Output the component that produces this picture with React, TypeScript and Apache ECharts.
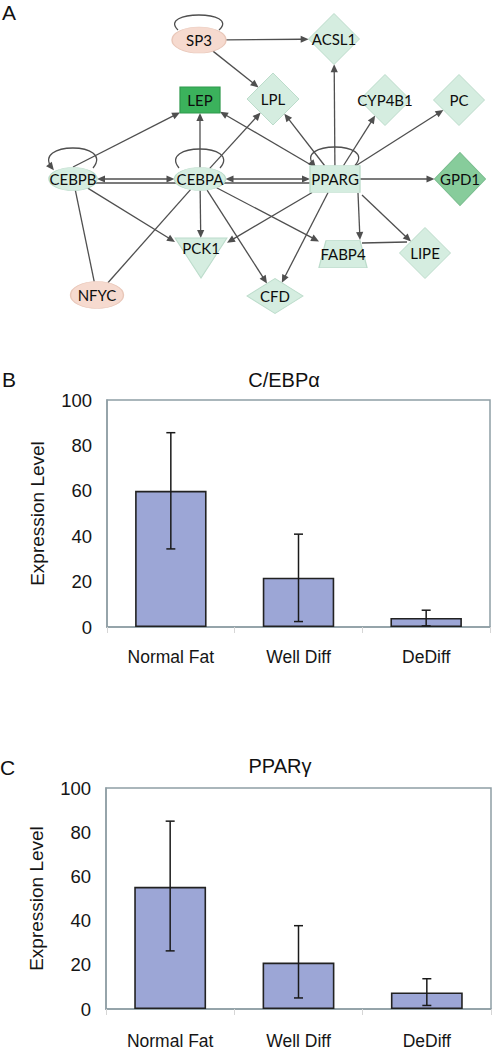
import React, { useEffect, useRef } from 'react';
import * as echarts from 'echarts';

// ---------- Panel A: network ----------
const NODE_NAMES = ['SP3', 'ACSL1', 'LEP', 'LPL', 'CYP4B1', 'PC', 'CEBPB', 'CEBPA', 'PPARG', 'GPD1', 'PCK1', 'FABP4', 'LIPE', 'NFYC', 'CFD'];
const NODE_X = [199, 334, 200, 273, 385, 459, 73, 200, 335, 460, 201, 343, 425, 97, 275];
const NODE_Y = [40, 39, 100, 99, 100, 100, 179, 179, 179, 179, 258, 254, 253, 295, 296];
const NODE_SHAPE = ['ellipse', 'diamond', 'rect', 'diamond', 'diamond', 'diamond', 'ellipse', 'ellipse', 'rect', 'diamond', 'triangle', 'trapezoid', 'diamond', 'ellipse', 'diamond'];
const NODE_W = [54, 51, 40, 52, 51, 51, 48, 51, 50, 51, 52, 48, 51, 53, 56];
const NODE_H = [26, 51, 26, 52, 51, 51, 23, 23, 27, 53, 40, 27, 51, 27, 35];
const NODE_KIND = ['tf2', 'gene', 'top', 'gene', 'gene', 'gene', 'gene', 'gene', 'gene', 'mid', 'gene', 'gene', 'gene', 'tf2', 'gene'];

const EDGE_FROM = ['SP3', 'SP3', 'PPARG', 'CEBPB', 'CEBPA', 'PPARG', 'CEBPA', 'PPARG', 'PPARG', 'PPARG', 'PPARG', 'CEBPB', 'CEBPA', 'PPARG', 'CEBPA', 'PPARG', 'CEBPA', 'PPARG', 'PPARG', 'FABP4', 'CEBPB', 'CEBPA', 'CEBPB', 'CEBPA', 'CEBPB'];
const EDGE_TO = ['ACSL1', 'LPL', 'ACSL1', 'LEP', 'LEP', 'LEP', 'LPL', 'LPL', 'CYP4B1', 'PC', 'GPD1', 'PCK1', 'PCK1', 'PCK1', 'CFD', 'CFD', 'FABP4', 'FABP4', 'LIPE', 'LIPE', 'NFYC', 'NFYC', 'CEBPA', 'PPARG', 'PPARG'];
const EDGE_TYPE = ['->', '->', '->', '->', '->', '->', '->', '->', '->', '->', '->', '->', '->', '->', '->', '->', '->', '->', '->', '--', '--', '--', '<->', '<->', '--'];
// attachment offsets relative to node centres (null = clip at node outline)
const EDGE_ANCHOR: (any[] | null)[] = [
  null, null, null, [0, -12, null, null], null, null, null, null, null, null, null, null, null, null, null, null, null,
  [23, 14, 17, -14], [27, 16, null, null], [19, -11, -18, -11], null, null, null, null, [21, 4, -25, 4],
];

const LOOP_NODES = ['SP3', 'CEBPB', 'CEBPA', 'PPARG'];
const LOOP_TOP = [25, 31, 30, 32];
const LOOP_END = [10, 11, 11, 13.5];
const LOOP_ARROW = [false, true, false, true];

// ---------- Panels B & C ----------
const CATEGORIES = ['Normal Fat', 'Well Diff', 'DeDiff'];
const CEBPA_MEAN = [60, 21.7, 4];
const CEBPA_LOW = [34.4, 2.4, 0.5];
const CEBPA_HIGH = [85.6, 40.9, 7.4];
const PPARG_MEAN = [55.3, 21, 7.5];
const PPARG_LOW = [26.3, 5, 1.6];
const PPARG_HIGH = [85, 37.7, 13.7];
const Y_TICKS = [0, 20, 40, 60, 80, 100];

const EDGE_COLOR = '#4f4f4f';
const ARROW_LEN = 8;
const ARROW_HALF = 3.6;
const FONT = '"Liberation Sans", Arial, sans-serif';

const SYMBOLS: Record<string, string> = {
  ellipse: 'path://M0,50A50,50,0,1,1,100,50A50,50,0,1,1,0,50Z',
  diamond: 'diamond',
  rect: 'rect',
  triangle: 'path://M0,0L100,0L50,80Z',
  trapezoid: 'path://M7,0L41,0L48,27L0,27Z',
};
const KIND_COLOR: Record<string, string> = { gene: '#d5ede0', tf2: '#f6dacf', top: '#3bb25c', mid: '#87cc9b' };
const KIND_BORDER: Record<string, string> = { gene: '#bcdccb', tf2: '#e9c7b9', top: '#2f9a4d', mid: '#76bb8b' };

function idx(name: string) {
  return NODE_NAMES.indexOf(name);
}

function clipT(i: number, dx: number, dy: number) {
  const a = NODE_W[i] / 2;
  const b = NODE_H[i] / 2;
  const s = NODE_SHAPE[i];
  if (s === 'ellipse') return 1 / Math.sqrt((dx / a) ** 2 + (dy / b) ** 2);
  if (s === 'diamond') return 1 / (Math.abs(dx) / a + Math.abs(dy) / b);
  return Math.min(dx === 0 ? Infinity : a / Math.abs(dx), dy === 0 ? Infinity : b / Math.abs(dy));
}

function arrowHead(tip: number[], ux: number, uy: number) {
  const bx = tip[0] - ux * ARROW_LEN;
  const by = tip[1] - uy * ARROW_LEN;
  return {
    type: 'polygon',
    shape: { points: [tip, [bx - uy * ARROW_HALF, by + ux * ARROW_HALF], [bx + uy * ARROW_HALF, by - ux * ARROW_HALF]] },
    style: { fill: EDGE_COLOR },
  };
}

export default function App() {
  const ref = useRef<HTMLDivElement>(null);

  useEffect(() => {
    document.body.style.margin = '0';
    const chart = echarts.init(ref.current!, null, { renderer: 'svg' });

    const nodeData = NODE_NAMES.map((n, i) => ({
      name: n,
      value: [NODE_X[i], NODE_Y[i]],
      symbol: SYMBOLS[NODE_SHAPE[i]],
      symbolSize: [NODE_W[i], NODE_H[i]],
      itemStyle: { color: KIND_COLOR[NODE_KIND[i]], borderColor: KIND_BORDER[NODE_KIND[i]], borderWidth: 1, opacity: 1 },
      label: {
        show: true,
        position: 'inside',
        formatter: n,
        offset: NODE_SHAPE[i] === 'triangle' ? [0, -10] : [0, 0],
        fontFamily: 'Lato, "Open Sans", sans-serif',
        fontSize: 15,
        color: '#0d0d0d',
      },
    }));

    const edgeSeries = {
      type: 'custom',
      xAxisIndex: 0,
      yAxisIndex: 0,
      silent: true,
      z: 2,
      data: EDGE_FROM.map((f) => [NODE_X[idx(f)], NODE_Y[idx(f)]]),
      renderItem: (params: any, api: any) => {
        const k = params.dataIndex;
        const fi = idx(EDGE_FROM[k]);
        const ti = idx(EDGE_TO[k]);
        const c1 = api.coord([NODE_X[fi], NODE_Y[fi]]);
        const c2 = api.coord([NODE_X[ti], NODE_Y[ti]]);
        const anc = EDGE_ANCHOR[k];
        const dx = c2[0] - c1[0];
        const dy = c2[1] - c1[1];
        let p1: number[];
        let p2: number[];
        if (anc && anc[0] != null) p1 = [c1[0] + anc[0], c1[1] + anc[1]];
        else {
          const t = clipT(fi, dx, dy);
          p1 = [c1[0] + dx * t, c1[1] + dy * t];
        }
        if (anc && anc[2] != null) p2 = [c2[0] + anc[2], c2[1] + anc[3]];
        else {
          const t = clipT(ti, dx, dy);
          p2 = [c2[0] - dx * t, c2[1] - dy * t];
        }
        const L = Math.hypot(p2[0] - p1[0], p2[1] - p1[1]);
        const ux = (p2[0] - p1[0]) / L;
        const uy = (p2[1] - p1[1]) / L;
        const type = EDGE_TYPE[k];
        const children: any[] = [];
        let s = p1;
        let e = p2;
        if (type === '->' || type === '<->') {
          e = [p2[0] - ux * (ARROW_LEN - 1), p2[1] - uy * (ARROW_LEN - 1)];
          children.push(arrowHead(p2, ux, uy));
        }
        if (type === '<->') {
          s = [p1[0] + ux * (ARROW_LEN - 1), p1[1] + uy * (ARROW_LEN - 1)];
          children.push(arrowHead(p1, -ux, -uy));
        }
        children.unshift({
          type: 'line',
          shape: { x1: s[0], y1: s[1], x2: e[0], y2: e[1] },
          style: { stroke: EDGE_COLOR, lineWidth: 1.3 },
        });
        return { type: 'group', children };
      },
    };

    const loopSeries = {
      type: 'custom',
      xAxisIndex: 0,
      yAxisIndex: 0,
      silent: true,
      z: 2,
      data: LOOP_NODES.map((n) => [NODE_X[idx(n)], NODE_Y[idx(n)]]),
      renderItem: (params: any, api: any) => {
        const k = params.dataIndex;
        const c = api.coord([api.value(0), api.value(1)]);
        const endDy = LOOP_END[k];
        const ctrl = (LOOP_TOP[k] - 0.25 * endDy) / 0.75;
        const R = [c[0] + 20, c[1] - endDy];
        const Lp = [c[0] - 21, c[1] - endDy];
        const cp1 = [c[0] + 42, c[1] - ctrl];
        const cp2 = [c[0] - 42, c[1] - ctrl];
        const children: any[] = [
          {
            type: 'bezierCurve',
            shape: { x1: R[0], y1: R[1], cpx1: cp1[0], cpy1: cp1[1], cpx2: cp2[0], cpy2: cp2[1], x2: Lp[0], y2: Lp[1] },
            style: { stroke: EDGE_COLOR, lineWidth: 1.3, fill: 'none' },
          },
        ];
        if (LOOP_ARROW[k]) {
          const dx = Lp[0] - cp2[0];
          const dy = Lp[1] - cp2[1];
          const l = Math.hypot(dx, dy);
          children.push(arrowHead([Lp[0] + (dx / l) * 3, Lp[1] + (dy / l) * 3], dx / l, dy / l));
        }
        return { type: 'group', children };
      },
    };

    const barAxisX = (gi: number, margin: number) => ({
      type: 'category',
      gridIndex: gi,
      data: CATEGORIES,
      axisLine: { lineStyle: { color: '#8f9ea5', width: 1.5 } },
      axisTick: { show: true, length: 6, lineStyle: { color: '#d6d6d6' } },
      axisLabel: { color: '#151515', fontSize: 17.5, fontFamily: FONT, margin },
    });
    const barAxisY = (gi: number) => ({
      type: 'value',
      gridIndex: gi,
      min: Y_TICKS[0],
      max: Y_TICKS[Y_TICKS.length - 1],
      interval: Y_TICKS[1] - Y_TICKS[0],
      name: 'Expression Level',
      nameLocation: 'middle',
      nameGap: 60,
      nameTextStyle: { color: '#151515', fontSize: 19, fontFamily: FONT },
      axisLine: { show: true, lineStyle: { color: '#8f9ea5', width: 1.5 } },
      axisTick: { show: false },
      splitLine: { show: false },
      axisLabel: { color: '#151515', fontSize: 18.5, fontFamily: FONT, margin: 15 },
    });
    const bars = (gi: number, data: number[]) => ({
      type: 'bar',
      xAxisIndex: gi,
      yAxisIndex: gi,
      data,
      barWidth: '56%',
      itemStyle: { color: '#9ca6d6', borderColor: '#222', borderWidth: 1.6 },
      silent: true,
      z: 2,
    });
    const errs = (gi: number, low: number[], high: number[]) => ({
      type: 'custom',
      xAxisIndex: gi,
      yAxisIndex: gi,
      silent: true,
      z: 3,
      encode: { x: 0, y: [1, 2] },
      data: CATEGORIES.map((_, i) => [i, low[i], high[i]]),
      renderItem: (_p: any, api: any) => {
        const lo = api.coord([api.value(0), api.value(1)]);
        const hi = api.coord([api.value(0), api.value(2)]);
        const st = { stroke: '#1a1a1a', lineWidth: 1.5 };
        return {
          type: 'group',
          children: [
            { type: 'line', shape: { x1: lo[0], y1: lo[1], x2: hi[0], y2: hi[1] }, style: st },
            { type: 'line', shape: { x1: lo[0] - 4.5, y1: lo[1], x2: lo[0] + 4.5, y2: lo[1] }, style: st },
            { type: 'line', shape: { x1: hi[0] - 4.5, y1: hi[1], x2: hi[0] + 4.5, y2: hi[1] }, style: st },
          ],
        };
      },
    });

    const txt = (text: string, x: number, y: number, size: number, align = 'center') => ({
      type: 'text',
      x,
      y,
      silent: true,
      style: { text, fontSize: size, fontFamily: FONT, fill: '#111', align, verticalAlign: 'middle' },
    });

    chart.setOption({
      animation: false,
      backgroundColor: '#ffffff',
      grid: [
        { left: 0, top: 0, width: 492, height: 330, show: false },
        { left: 107, top: 400, width: 383, height: 227, show: true, borderColor: '#8f9ea5', borderWidth: 1.5 },
        { left: 106, top: 788, width: 385, height: 221, show: true, borderColor: '#8f9ea5', borderWidth: 1.5 },
      ],
      xAxis: [
        { type: 'value', gridIndex: 0, min: 0, max: 492, show: false },
        barAxisX(1, 21),
        barAxisX(2, 23),
      ],
      yAxis: [
        { type: 'value', gridIndex: 0, min: 0, max: 330, inverse: true, show: false },
        barAxisY(1),
        barAxisY(2),
      ],
      graphic: [
        txt('A', 2, 12, 21, 'left'),
        txt('B', 2, 379, 21, 'left'),
        txt('C', 0, 767, 21, 'left'),
        txt('C/EBPα', 284, 380, 20),
        txt('PPARγ', 280, 766, 20),
      ],
      series: [
        edgeSeries,
        loopSeries,
        {
          type: 'scatter',
          xAxisIndex: 0,
          yAxisIndex: 0,
          silent: true,
          z: 3,
          itemStyle: { opacity: 1 },
          data: nodeData,
        },
        bars(1, CEBPA_MEAN),
        errs(1, CEBPA_LOW, CEBPA_HIGH),
        bars(2, PPARG_MEAN),
        errs(2, PPARG_LOW, PPARG_HIGH),
      ],
    });

    return () => chart.dispose();
  }, []);

  return <div ref={ref} style={{ width: 492, height: 1050 }} />;
}
